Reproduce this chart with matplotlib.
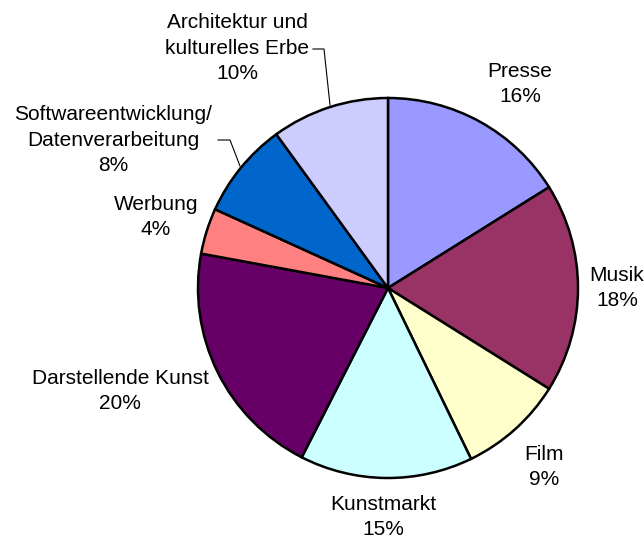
import matplotlib
matplotlib.use("Agg")
import matplotlib.pyplot as plt

categories = ["Presse", "Musik", "Film", "Kunstmarkt", "Darstellende Kunst",
              "Werbung", "Softwareentwicklung/\nDatenverarbeitung",
              "Architektur und\nkulturelles Erbe"]
values = [16.1, 17.8, 8.9, 14.7, 20.4, 3.9, 8.2, 10.0]
colors = ["#9999FF", "#993366", "#FFFFCC", "#CCFFFF", "#660066",
          "#FF8080", "#0066CC", "#CCCCFF"]

# label block centres in figure pixels (x, y from top)
label_pos = [(520, 84), (617, 288), (544, 467), (383, 517), (120, 391),
             (156, 217), (113, 140), (237, 48)]

W, H = 644, 540
fig = plt.figure(figsize=(W / 100, H / 100), dpi=100)
ax = fig.add_axes([0, 0, 1, 1])

cx, cy, r = 388, 288, 190
wedges, _ = ax.pie(values, colors=colors, startangle=-90, counterclock=True,
                   center=(cx, cy), radius=r, frame=True,
                   wedgeprops=dict(edgecolor="black", linewidth=1.8))
ax.set_xlim(0, W)
ax.set_ylim(H, 0)
ax.set_aspect("equal")
ax.axis("off")

total = sum(values)
for name, v, (lx, ly) in zip(categories, values, label_pos):
    ax.text(lx, ly, f"{name}\n{round(v / total * 100):.0f}%", ha="center",
            va="center", fontsize=15, family="Liberation Sans",
            linespacing=1.45, color="black")

# leader lines
ax.plot([313, 324, 330], [49, 49, 105], color="black", lw=0.8)
ax.plot([218, 230, 240], [140, 140, 166], color="black", lw=0.8)

fig.savefig("out.png", dpi=100)
